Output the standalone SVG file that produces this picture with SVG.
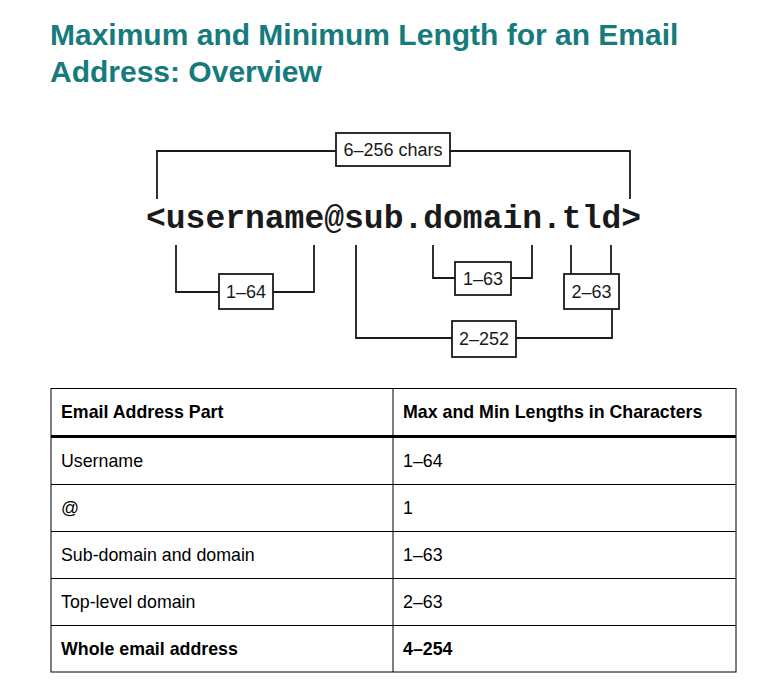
<svg xmlns="http://www.w3.org/2000/svg" width="782" height="682" viewBox="0 0 782 682">
<style>
.title{font-family:"Liberation Sans",Arial,sans-serif;font-weight:bold;font-size:30px;fill:#167b7c}
.mono{font-family:"Courier New","Liberation Mono",monospace;font-weight:bold;font-size:33px;fill:#1a1a1a}
.box{fill:#fff;stroke:#1a1a1a;stroke-width:1.8}
.lbl{font-family:"Liberation Sans",Arial,sans-serif;font-size:18px;fill:#1a1a1a;text-anchor:middle}
.con{fill:none;stroke:#1a1a1a;stroke-width:1.8}
.cell{font-family:"Liberation Sans",Arial,sans-serif;font-size:17.8px;fill:#000}
.hd{font-weight:bold}
.tl{stroke:#000;stroke-width:1;fill:none}
</style>
<rect width="782" height="682" fill="#fff"/>
<g id="title">
<text class="title" x="50" y="45">Maximum and Minimum Length for an Email</text>
<text class="title" x="50" y="82">Address: Overview</text>
</g>
<g id="address"><text class="mono" x="146" y="228">&lt;username@sub.domain.tld&gt;</text></g>
<g id="connectors">
<path class="con" d="M157 199V151H336M450 151H630V199"/>
<path class="con" d="M176 245V292H219M273 292H314V245"/>
<path class="con" d="M433 245V278H455M511 278H532V245"/>
<path class="con" d="M571 245V274M611 245V274"/>
<path class="con" d="M612 309V338H516M452 338H356V245"/>
</g>
<g id="total"><rect class="box" x="336" y="133" width="114" height="33"/><text class="lbl" x="393" y="156">6–256 chars</text></g>
<g id="user"><rect class="box" x="219" y="274" width="54" height="35"/><text class="lbl" x="246" y="298">1–64</text></g>
<g id="sub"><rect class="box" x="455" y="262" width="56" height="33"/><text class="lbl" x="483" y="285">1–63</text></g>
<g id="tld"><rect class="box" x="564" y="274" width="55" height="35"/><text class="lbl" x="591.5" y="298">2–63</text></g>
<g id="domain"><rect class="box" x="452" y="321" width="64" height="36"/><text class="lbl" x="484" y="345">2–252</text></g>
<g id="table">
<rect class="tl" x="51" y="388.5" width="685" height="283.5"/>
<path class="tl" d="M393 388V672M51 484.5H736M51 531.5H736M51 578.5H736M51 625.5H736"/>
<path d="M51 436.5H736" stroke="#000" stroke-width="3"/>
<text class="cell hd" x="61" y="418">Email Address Part</text>
<text class="cell hd" x="403" y="418">Max and Min Lengths in Characters</text>
<text class="cell" x="61" y="467">Username</text><text class="cell" x="403" y="467">1–64</text>
<text class="cell" x="61" y="514">@</text><text class="cell" x="403" y="514">1</text>
<text class="cell" x="61" y="561">Sub-domain and domain</text><text class="cell" x="403" y="561">1–63</text>
<text class="cell" x="61" y="608">Top-level domain</text><text class="cell" x="403" y="608">2–63</text>
<text class="cell hd" x="61" y="655">Whole email address</text><text class="cell hd" x="403" y="655">4–254</text>
</g>
</svg>
